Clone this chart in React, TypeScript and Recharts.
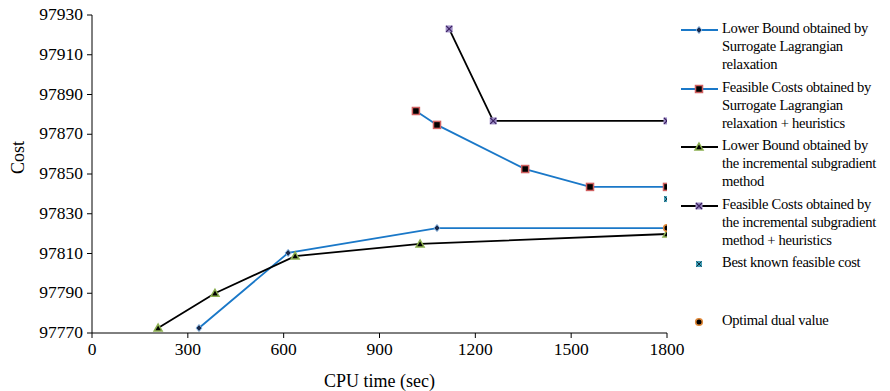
import React from 'react'
import { LineChart, Line, XAxis, YAxis } from 'recharts'

// CPU time (sec) / cost readings
const lbSlrTime = [335, 614, 1080, 1800]
const lbSlrCost = [97772.5, 97810.3, 97822.8, 97822.8]

const fcSlrTime = [1014, 1080, 1356, 1559, 1800]
const fcSlrCost = [97881.7, 97874.7, 97852.5, 97843.5, 97843.5]

const lbIsgTime = [207, 385, 636, 1027, 1800]
const lbIsgCost = [97772.5, 97790, 97808.7, 97814.8, 97819.8]

const fcIsgTime = [1118, 1256, 1800]
const fcIsgCost = [97923, 97876.7, 97876.7]

const bestKnownTime = [1800]
const bestKnownCost = [97837.4]

const optimalDualTime = [1800]
const optimalDualCost = [97822.8]

const xTicks = [0, 300, 600, 900, 1200, 1500, 1800]
const yTicks = [97770, 97790, 97810, 97830, 97850, 97870, 97890, 97910, 97930]

const legendLabels = [
  ['Lower Bound obtained by', 'Surrogate Lagrangian', 'relaxation'],
  ['Feasible Costs obtained by', 'Surrogate Lagrangian', 'relaxation + heuristics'],
  ['Lower Bound obtained by', 'the incremental subgradient', 'method'],
  ['Feasible Costs obtained by', 'the incremental subgradient', 'method + heuristics'],
  ['Best known feasible cost'],
  ['Optimal dual value'],
]

const zip = (xs: number[], ys: number[]) => xs.map((x, i) => ({ x, y: ys[i] }))

const BLUE = '#1a78c8'
const FONT = '"Times New Roman", "Liberation Serif", "DejaVu Serif", serif'

const Diamond = ({ cx, cy }: any) => (
  <path d={`M${cx},${cy - 3.5} L${cx + 3},${cy} L${cx},${cy + 3.5} L${cx - 3},${cy} Z`} fill="#1b2a4a" stroke="#7fb0e0" strokeWidth={1} />
)
const RedSquare = ({ cx, cy }: any) => (
  <rect x={cx - 3.5} y={cy - 3.5} width={7} height={7} fill="#000" stroke="#d06060" strokeWidth={1.5} />
)
const Triangle = ({ cx, cy }: any) => (
  <path d={`M${cx},${cy - 4} L${cx + 4},${cy + 3} L${cx - 4},${cy + 3} Z`} fill="#000" stroke="#8cb050" strokeWidth={1.5} />
)
const PurpleX = ({ cx, cy }: any) => (
  <g>
    <rect x={cx - 3.5} y={cy - 3.5} width={7} height={7} fill="#a090c8" />
    <path d={`M${cx - 3},${cy - 3} L${cx + 3},${cy + 3} M${cx + 3},${cy - 3} L${cx - 3},${cy + 3}`} stroke="#3a2060" strokeWidth={1.2} />
  </g>
)
const TealX = ({ cx, cy }: any) => (
  <g>
    <rect x={cx - 3} y={cy - 3} width={6} height={6} fill="#40a0b8" />
    <path d={`M${cx - 2.5},${cy - 2.5} L${cx + 2.5},${cy + 2.5} M${cx + 2.5},${cy - 2.5} L${cx - 2.5},${cy + 2.5}`} stroke="#103040" strokeWidth={1} />
  </g>
)
const OrangeDot = ({ cx, cy }: any) => (
  <circle cx={cx} cy={cy} r={3.3} fill="#000" stroke="#e08838" strokeWidth={1.6} />
)

const XTick = ({ x, y, payload }: any) => (
  <text x={x} y={y + 15} textAnchor="middle" fontSize={17.5} fontFamily={FONT} fill="#000">{payload.value}</text>
)
const YTick = ({ x, y, payload }: any) => (
  <text x={x - 2} y={y + 5} textAnchor="end" fontSize={17.5} fontFamily={FONT} fill="#000">{payload.value}</text>
)

const dotFns = [Diamond, RedSquare, Triangle, PurpleX, TealX, OrangeDot]
const lineColors = [BLUE, BLUE, '#000', '#000', null, null]
const legendTops = [20, 79, 137, 196, 254, 312]

export default function App() {
  const series = [
    zip(lbSlrTime, lbSlrCost),
    zip(fcSlrTime, fcSlrCost),
    zip(lbIsgTime, lbIsgCost),
    zip(fcIsgTime, fcIsgCost),
    zip(bestKnownTime, bestKnownCost),
    zip(optimalDualTime, optimalDualCost),
  ]
  const stroke = [BLUE, BLUE, '#000', '#000', 'none', 'none']

  return (
    <div style={{ position: 'relative', width: 890, height: 391, marginTop: -8, marginLeft: -8, background: '#fff', fontFamily: FONT }}>
      <style>{`.recharts-text { font-family: ${FONT}; }`}</style>
      <LineChart width={890} height={391} margin={{ top: 15, right: 223, left: 0, bottom: 0 }} style={{ fontFamily: FONT }}>
        <XAxis
          type="number"
          dataKey="x"
          domain={[0, 1800]}
          ticks={xTicks}
          height={58}
          tick={<XTick />}
          tickSize={5}
          stroke="#000"
          allowDataOverflow
          label={{ value: 'CPU time (sec)', position: 'insideBottom', offset: 4, fontSize: 18, fill: '#000' }}
        />
        <YAxis
          type="number"
          dataKey="y"
          domain={[97770, 97930]}
          ticks={yTicks}
          width={92}
          tick={<YTick />}
          tickSize={5}
          stroke="#000"
          allowDataOverflow
          label={{ value: 'Cost', angle: -90, position: 'insideLeft', offset: 0, dx: 18, fontSize: 18, fill: '#000' }}
        />
        {series.map((d, i) => (
          <Line
            key={i}
            data={d}
            dataKey="y"
            type="linear"
            stroke={stroke[i]}
            strokeWidth={1.8}
            dot={dotFns[i]}
            activeDot={false}
            isAnimationActive={false}
          />
        ))}
      </LineChart>
      {legendLabels.map((lines, i) => {
        const Dot = dotFns[i]
        return (
          <div key={i} style={{ position: 'absolute', left: 680, top: legendTops[i], width: 210, display: 'flex' }}>
            <svg width={42} height={18} style={{ flex: 'none' }}>
              {lineColors[i] && <line x1={1} y1={10} x2={38} y2={10} stroke={lineColors[i] as string} strokeWidth={1.8} />}
              <Dot cx={19} cy={10} />
            </svg>
            <div style={{ fontSize: 14.6, lineHeight: '17.8px', letterSpacing: -0.3, color: '#000', whiteSpace: 'nowrap' }}>
              {lines.map((t, j) => <div key={j}>{t}</div>)}
            </div>
          </div>
        )
      })}
    </div>
  )
}
